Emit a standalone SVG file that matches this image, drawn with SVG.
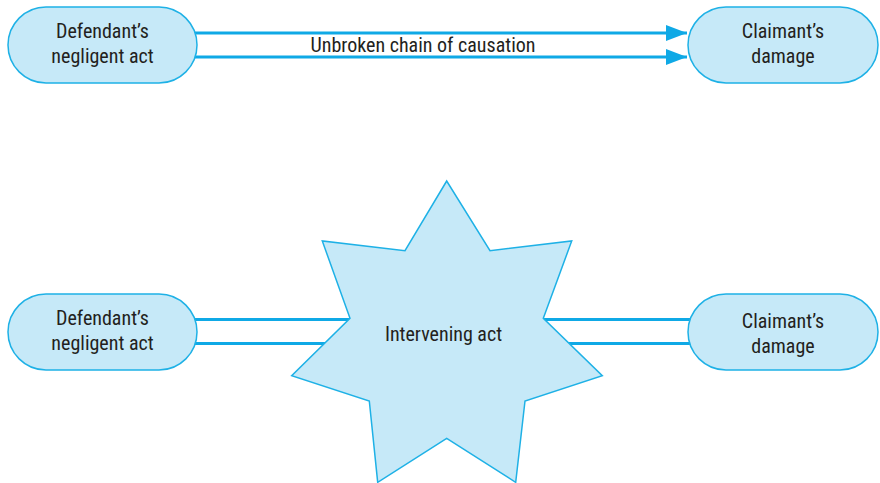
<svg xmlns="http://www.w3.org/2000/svg" width="880" height="483" viewBox="0 0 880 483">
<style>
.pill{fill:#c6e9f8;stroke:#1eb1e6;stroke-width:1.5}
.star{fill:#c6e9f8;stroke:#1eb1e6;stroke-width:1.5;stroke-linejoin:miter}
.ln{stroke:#0fa9e6;stroke-width:3;fill:none}
text{font-family:"Liberation Sans Narrow","Roboto Condensed","Liberation Sans",sans-serif;font-size:20px;fill:#231f20;text-anchor:middle}
</style>
<defs>
<marker id="ah" markerUnits="userSpaceOnUse" markerWidth="22" markerHeight="16" refX="21" refY="8" orient="auto">
<path d="M0,0 L21,8 L0,16 Z" fill="#0fa9e6"/>
</marker>
</defs>
<rect width="880" height="483" fill="#ffffff"/>
<g id="connectors">
<line class="ln" x1="192" y1="33" x2="687" y2="33" marker-end="url(#ah)"/>
<line class="ln" x1="192" y1="57" x2="687" y2="57" marker-end="url(#ah)"/>
<line class="ln" x1="192" y1="319.5" x2="352" y2="319.5"/>
<line class="ln" x1="192" y1="343.5" x2="340" y2="343.5"/>
<line class="ln" x1="540" y1="319.5" x2="692" y2="319.5"/>
<line class="ln" x1="560" y1="343.5" x2="692" y2="343.5"/>
<text x="423" y="52">Unbroken chain of causation</text>
</g>
<g id="top-defendant">
<rect class="pill" x="8" y="7" width="189" height="76" rx="38" ry="38"/>
<text x="102.5" y="38">Defendant’s</text>
<text x="102.5" y="63">negligent act</text>
</g>
<g id="top-claimant">
<rect class="pill" x="688" y="7" width="190" height="76" rx="38" ry="38"/>
<text x="783" y="38">Claimant’s</text>
<text x="783" y="63">damage</text>
</g>
<g id="bottom-defendant">
<rect class="pill" x="8" y="294" width="189" height="76" rx="38" ry="38"/>
<text x="102.5" y="325">Defendant’s</text>
<text x="102.5" y="350">negligent act</text>
</g>
<g id="bottom-claimant">
<rect class="pill" x="688" y="294" width="190" height="76" rx="38" ry="38"/>
<text x="783" y="328">Claimant’s</text>
<text x="783" y="353">damage</text>
</g>
<g id="intervening-act">
<polygon class="star" points="446.7,181 405,250.7 322.3,241 350,318.3 291.7,375.7 369.3,401 377.7,482.3 446.7,438.3 515.7,482.3 525,401 602.3,375.7 543.3,318.3 571.7,241 490,250.7"/>
<text x="443.5" y="341">Intervening act</text>
</g>
</svg>
